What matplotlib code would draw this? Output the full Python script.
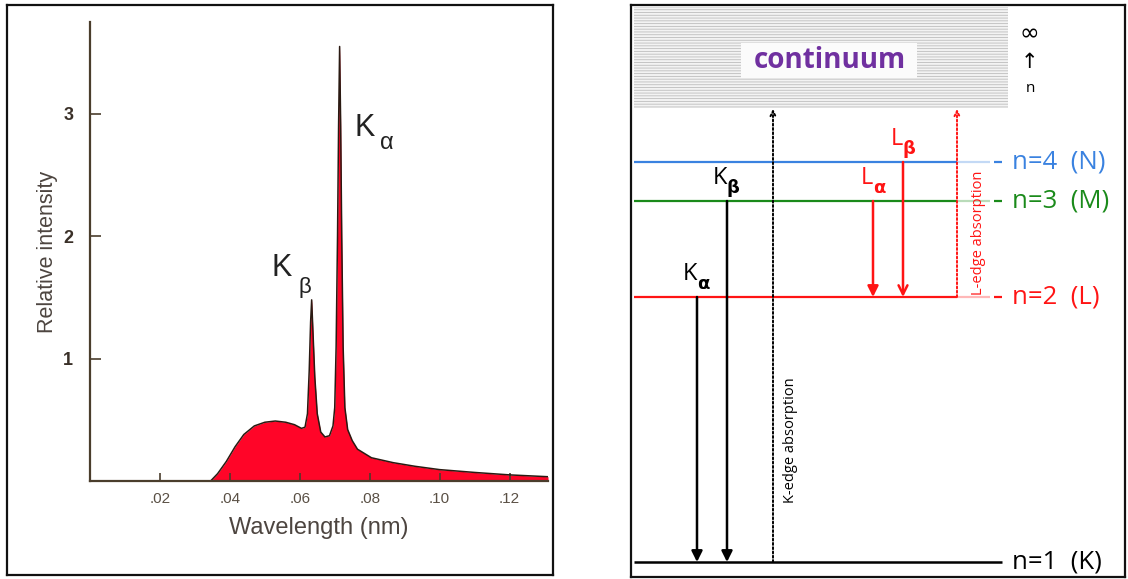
import numpy as np
import matplotlib.pyplot as plt
from matplotlib.patches import Rectangle, FancyArrowPatch

# X-ray spectrum: wavelength in nm, relative intensity
wavelength = [0.0, 0.0345, 0.0365, 0.0390, 0.0415, 0.0440, 0.0470, 0.0500, 0.0530,
              0.0560, 0.0585, 0.0605, 0.0615, 0.0622, 0.0627, 0.0631, 0.0634, 0.0638,
              0.0643, 0.0650, 0.0660, 0.0672, 0.0685, 0.0695, 0.0700, 0.0704, 0.0708,
              0.0711, 0.0714, 0.0717, 0.0720, 0.0724, 0.0729, 0.0737, 0.0750, 0.0765,
              0.0805, 0.0867, 0.0930, 0.1000, 0.1100, 0.1200, 0.1310]
intensity = [0.0, 0.0, 0.06, 0.16, 0.28, 0.38, 0.45, 0.48, 0.49,
             0.48, 0.46, 0.43, 0.44, 0.55, 0.90, 1.30, 1.48, 1.20,
             0.85, 0.55, 0.40, 0.36, 0.37, 0.45, 0.60, 1.10, 2.00,
             2.90, 3.55, 2.90, 2.00, 1.10, 0.60, 0.42, 0.33, 0.26,
             0.19, 0.15, 0.12, 0.093, 0.07, 0.05, 0.035]
xticks = [0.02, 0.04, 0.06, 0.08, 0.10, 0.12]
xticklabels = ['.02', '.04', '.06', '.08', '.10', '.12']
yticks = [1, 2, 3]

# energy level diagram (vertical positions in diagram units, top = high energy)
level_labels = ['n=1 (K)', 'n=2 (L)', 'n=3 (M)', 'n=4 (N)']
level_y = [562, 297, 201, 162]
level_colors = ['black', '#ff1414', '#1a8a1a', '#3a82e0']
continuum_bottom = 108

# emission lines: label, x position, upper level index, lower level index
line_names = ['K', 'K', 'L', 'L']
line_subs = ['α', 'β', 'α', 'β']
line_x = [697, 727, 873, 903]
line_upper = [1, 2, 2, 3]
line_lower = [0, 0, 1, 1]
line_colors = ['black', 'black', '#ff1414', '#ff1414']

# absorption edges: label, x position, starting level index
edge_labels = ['K-edge absorption', 'L-edge absorption']
edge_x = [773, 957]
edge_level = [0, 1]
edge_colors = ['black', '#ff1414']

plt.rcParams['hatch.linewidth'] = 0.6
plt.rcParams['font.family'] = ['Liberation Sans', 'DejaVu Sans']
fig = plt.figure(figsize=(11.28, 5.79), dpi=100)

# panel frames
for l, b, w, h in [(7, 4, 546, 570), (631, 2, 494, 572)]:
    fr = fig.add_axes([l / 1128, b / 579, w / 1128, h / 579])
    fr.set_xticks([])
    fr.set_yticks([])
    for s in fr.spines.values():
        s.set_linewidth(1.6)
        s.set_color('#111111')
    fr.patch.set_alpha(0)

# ---- left: spectrum ----
axc = '#4a3d2c'
ax = fig.add_axes([90 / 1128, 98 / 579, 458 / 1128, 459 / 579])
ax.patch.set_alpha(0)
ax.fill_between(wavelength, intensity, 0, color='#ff0528', lw=0)
ax.plot(wavelength, intensity, color='#2a1a12', lw=1.1)
ax.set_xlim(0, 0.131)
ax.set_ylim(0, 3.75)
for s in ['top', 'right']:
    ax.spines[s].set_visible(False)
for s in ['left', 'bottom']:
    ax.spines[s].set_color(axc)
    ax.spines[s].set_linewidth(1.6)
ax.set_xticks(xticks)
ax.set_xticklabels(xticklabels)
ax.set_yticks(yticks)
ax.tick_params(axis='x', direction='in', length=6, width=1.2, color=axc,
               labelsize=11, labelcolor='#5a5045', pad=8)
ax.tick_params(axis='y', direction='in', length=8, width=1.2, color=axc,
               labelsize=13, labelcolor='#3a3028', pad=12)
for t in ax.get_yticklabels():
    t.set_fontweight('bold')
ax.set_xlabel('Wavelength (nm)', fontsize=17, color='#4d4540', labelpad=8)
ax.set_ylabel('Relative intensity', fontsize=15.5, color='#4d4540', labelpad=4)

# peak labels
ax.text(0.0757, 2.88, 'K', fontsize=22, color='#222222', va='center', ha='left')
ax.text(0.0830, 2.76, 'α', fontsize=17, color='#222222', va='center', ha='left')
ax.text(0.0520, 1.74, 'K', fontsize=22, color='#222222', va='center', ha='left')
ax.text(0.0597, 1.58, 'β', fontsize=16, color='#222222', va='center', ha='left')

# ---- right: energy levels ----
bx = fig.add_axes([631 / 1128, 2 / 579, 494 / 1128, 572 / 579])
bx.set_xlim(631, 1125)
bx.set_ylim(577, 5)
bx.axis('off')
bx.patch.set_alpha(0)

# continuum band
bx.add_patch(Rectangle((634, 7), 374, continuum_bottom - 7, facecolor='#f3f3f3',
                       edgecolor='#bdbdbd', hatch='------', lw=0))
bx.add_patch(Rectangle((741, 43), 176, 35, facecolor='#fbfbfb', lw=0, zorder=2))
bx.text(830, 60, 'continuum', fontsize=20, fontweight='bold', color='#7030a0',
        ha='center', va='center', family='Open Sans', zorder=3)
bx.text(1029, 33, '∞', fontsize=17, ha='center', va='center', family='DejaVu Sans')
bx.text(1029, 62, '↑', fontsize=15, ha='center', va='center', family='DejaVu Sans')
bx.text(1030, 88, 'n', fontsize=11, ha='center', va='center', family='Open Sans')

# levels
for lab, y, c in zip(level_labels, level_y, level_colors):
    if lab.startswith('n=1'):
        bx.plot([634, 1002], [y, y], color=c, lw=1.8, solid_capstyle='butt')
    else:
        bx.plot([634, 957], [y, y], color=c, lw=1.6, solid_capstyle='butt')
        bx.plot([957, 990], [y, y], color=c, lw=1.6, alpha=0.3, solid_capstyle='butt')
        bx.plot([994, 1002], [y, y], color=c, lw=1.6, solid_capstyle='butt')
    bx.text(1012, y, lab.replace(' ', '  '), fontsize=18.5, color=c, va='center',
            ha='left', family='Open Sans')

# emission transitions
for name, sub, x, up, lo, c in zip(line_names, line_subs, line_x, line_upper,
                                   line_lower, line_colors):
    y0, y1 = level_y[up], level_y[lo]
    style = '-|>' if not (name == 'L' and sub == 'β') else '->'
    bx.add_patch(FancyArrowPatch((x, y0), (x, y1), arrowstyle=style,
                                 mutation_scale=16, color=c, lw=1.8,
                                 shrinkA=0, shrinkB=0, zorder=4))
    ty = y0 - 23
    bx.text(x, ty, name, fontsize=17, color=c, ha='right', va='center',
            family='Open Sans')
    bx.text(x, ty + 10, sub, fontsize=13, color=c, ha='left', va='center',
            family='DejaVu Sans', fontweight='bold')

# absorption edges
for lab, x, lv, c in zip(edge_labels, edge_x, edge_level, edge_colors):
    bx.add_patch(FancyArrowPatch((x, level_y[lv]), (x, continuum_bottom + 1),
                                 arrowstyle='->', mutation_scale=9, color=c,
                                 lw=1.4, linestyle=(0, (1, 1.2)),
                                 shrinkA=0, shrinkB=0, zorder=4))
bx.text(edge_x[0] + 18, 440, edge_labels[0], rotation=90, fontsize=10.5,
        ha='center', va='center', family='Open Sans', color='black')
bx.text(edge_x[1] + 21, 233, edge_labels[1], rotation=90, fontsize=10.5,
        ha='center', va='center', family='Open Sans', color='#ff1414')

fig.savefig('out.png', dpi=100)
